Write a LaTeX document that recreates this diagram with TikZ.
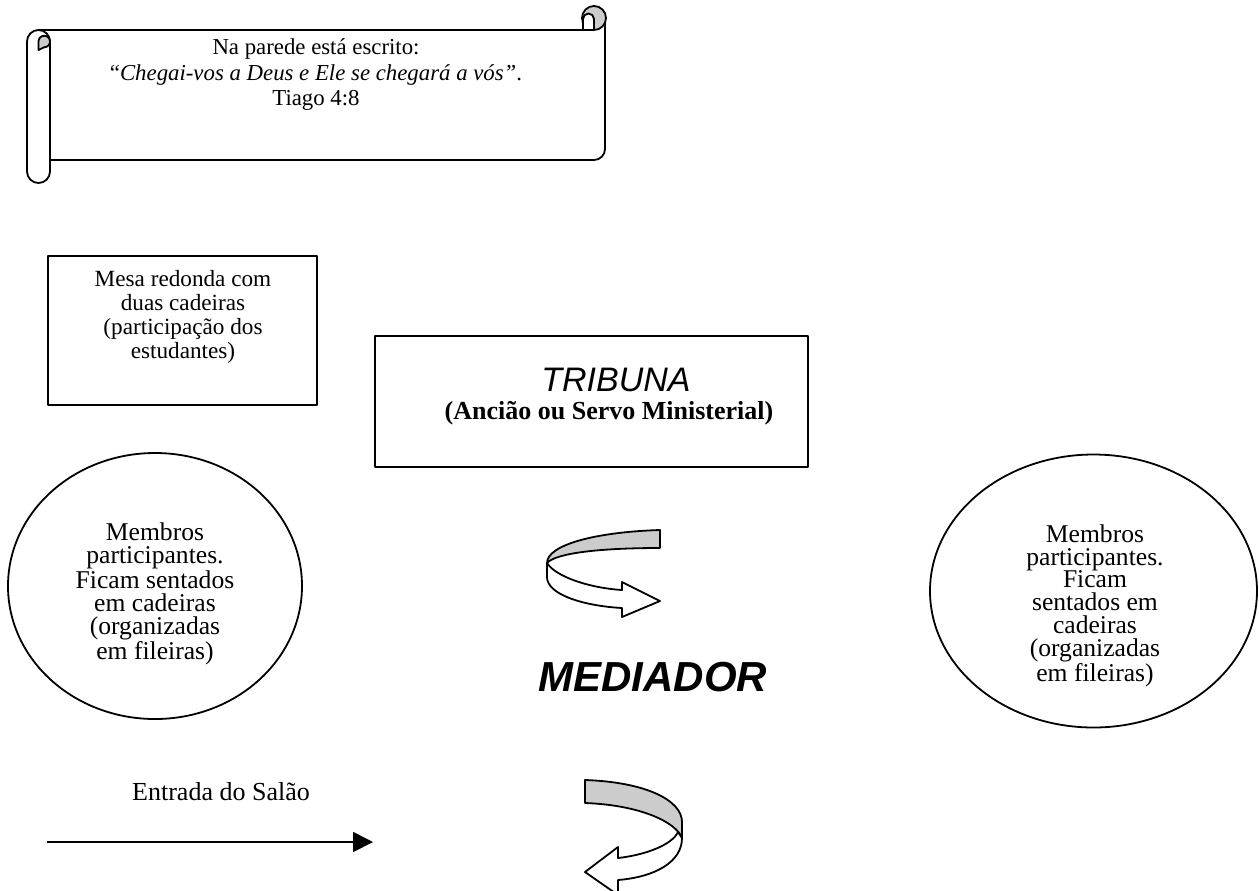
\documentclass[tikz,border=0pt]{standalone}
\usepackage{fontspec}
\setmainfont{Liberation Serif}
\newfontfamily\arialfont{Liberation Sans}
\usetikzlibrary{positioning}
\usetikzlibrary{shapes.geometric,arrows.meta}
\definecolor{rollgrey}{RGB}{204,204,204}

\tikzset{
	outline/.style={line width=0.9pt, draw=black},
	plainbox/.style={rectangle, outline, fill=white},
	seats/.style={ellipse, outline},
	bodytext/.style={align=center, font=\fontsize{11.6}{12}\selectfont},
	seatstext/.style={align=center, font=\fontsize{12.8}{11.4}\selectfont},
}

\begin{document}
\begin{tikzpicture}[x=0.5pt, y=-0.5pt, line join=round]
			\useasboundingbox (0,0) rectangle (1259,890);
			% scroll on the wall
			\fill[white] (40,30) -- (605,30) -- (605,149) arc (0:90:11) -- (40,160) -- cycle;
			\draw[outline] (38.5,30) -- (583,30);
			\draw[outline] (605,19) -- (605,149) arc (0:90:11) -- (50,160);
			\draw[outline, fill=white] (50,41.5) -- (50,171.5) arc (0:180:11.5) -- (27,41.5) arc (180:360:11.5) -- cycle;
			\draw[outline, fill=rollgrey] (38.5,50) -- (38.5,41.5) arc (180:450:5.75) -- cycle;
			\draw[outline, fill=rollgrey] (594,18) circle[radius=12];
			\draw[outline, fill=white] (583,30) -- (583,19) arc (180:360:5.5) -- (594,30) -- cycle;
			\node[align=center, font=\fontsize{11.4}{12.75}\selectfont] (verse) at (316,75) {Na parede está escrito:\\“\textit{Chegai-vos a Deus e Ele se chegará a vós”}.\\Tiago 4:8};
			% table and tribune
			\node[plainbox, minimum width=134.5pt, minimum height=74.5pt] (mesa) at (182.5,330.5) {};
			\node[bodytext] (mesatext) at (183,317) {Mesa redonda com\\duas cadeiras\\(participação dos\\estudantes)};
			\node[plainbox, minimum width=216.5pt, minimum height=65.5pt] (tribuna) at (591.5,401.5) {};
			\node[font=\arialfont\itshape\fontsize{17}{20}\selectfont, inner sep=1pt] (tribunaname) at (616,380) {TRIBUNA};
			\node[font=\bfseries\fontsize{13}{15}\selectfont, inner sep=1pt] (tribunarole) at (609,413) {(Ancião ou Servo Ministerial)};
			% seats
			\node[seats, minimum width=147pt, minimum height=133pt] (leftseats) at (155,586) {};
			\node[seatstext] (lefttext) at (155,594) {Membros\\participantes.\\Ficam sentados\\em cadeiras\\(organizadas\\em fileiras)};
			\node[seats, minimum width=163.5pt, minimum height=136.5pt] (rightseats) at (1093.5,591) {};
			\node[seatstext] (righttext) at (1095,606) {Membros\\participantes.\\Ficam\\sentados em\\cadeiras\\(organizadas\\em fileiras)};
			% mediator and turning arrows
			\node[font=\arialfont\bfseries\itshape\fontsize{21}{24}\selectfont] (mediador) at (653,677) {MEDIADOR};
			\draw[outline, fill=rollgrey] (660,530) .. controls (595,532) and (547,545) .. (547,563) .. controls (556,553) and (600,548) .. (660,548) -- cycle;
			\draw[outline, fill=white] (547,563) -- (547,577) .. controls (547,595) and (585,606) .. (622,608) -- (622,617) -- (660,601) -- (622,582) -- (622,590) .. controls (590,588) and (556,577) .. (547,563) -- cycle;
			\draw[outline, fill=rollgrey] (585,780) .. controls (645,782) and (682,800) .. (682,822) -- (682,838) .. controls (676,822) and (640,805) .. (585,803) -- cycle;
			\draw[outline, fill=white] (678,832) .. controls (672,845) and (645,855) .. (618,858) -- (618,847) -- (585,872) -- (618,895) -- (618,880) .. controls (655,877) and (682,862) .. (682,838) -- cycle;
			% entrance
			\coordinate (doorstart) at (47,842);
			\coordinate (doorend) at (373,842);
			\draw[outline, -{Triangle[length=10pt,width=10pt]}] (doorstart) -- (doorend);
			\node[font=\fontsize{13}{15}\selectfont] (doorlabel) at (221,792) {Entrada do Salão};
\end{tikzpicture}
\end{document}
